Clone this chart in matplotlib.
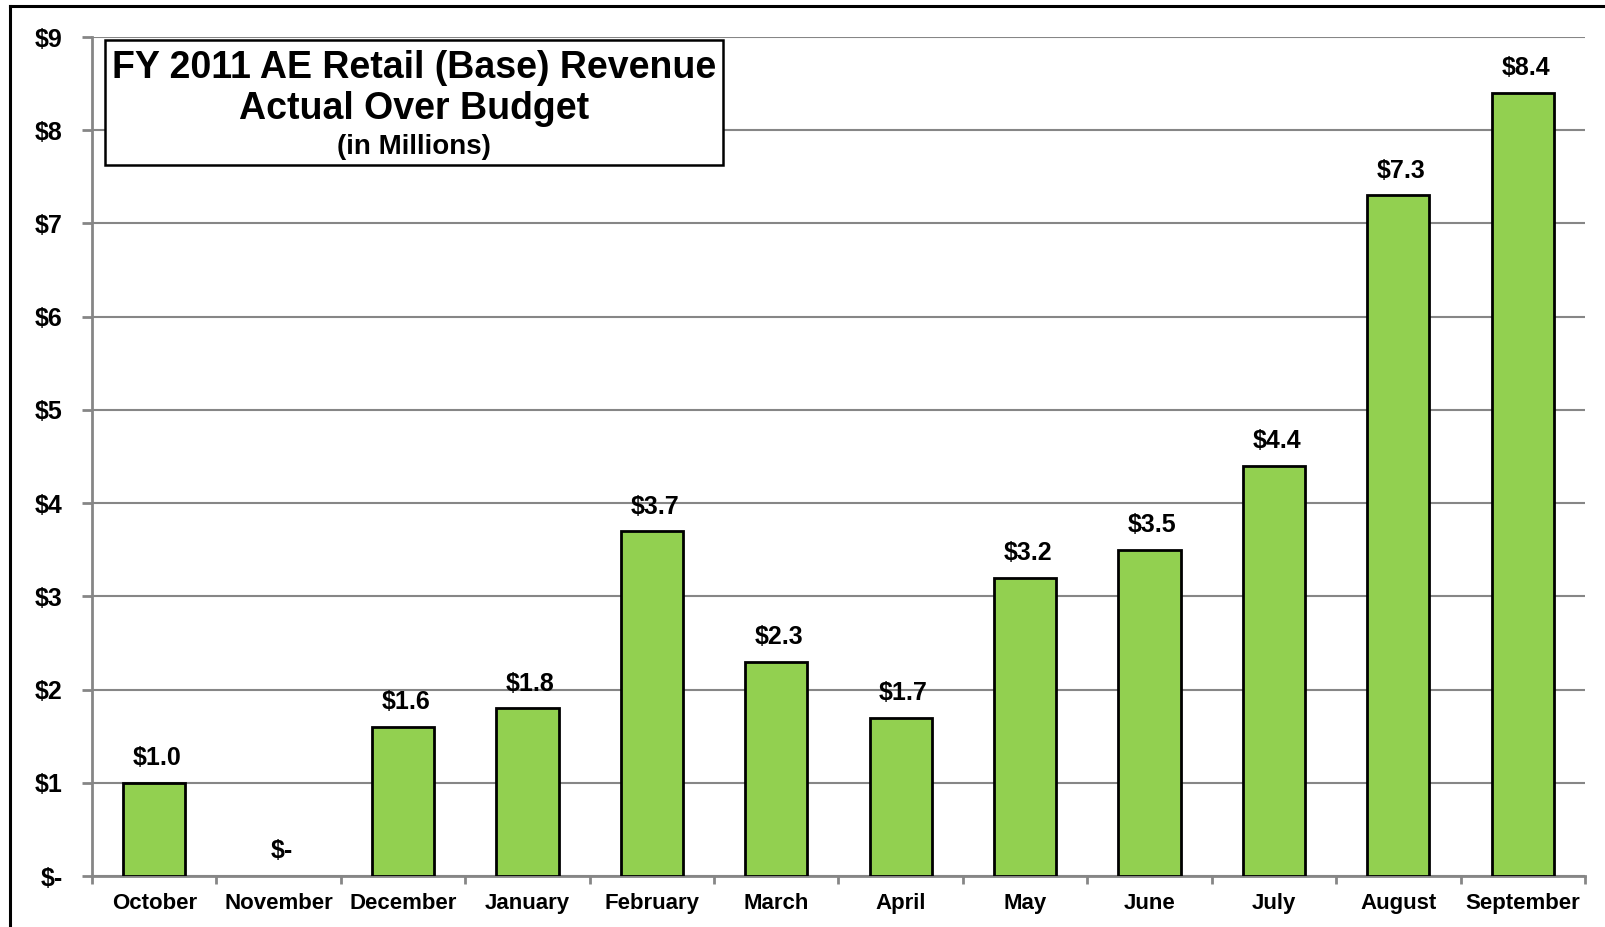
import matplotlib
matplotlib.use("Agg")
import matplotlib.pyplot as plt
from matplotlib.patches import Rectangle
from matplotlib.lines import Line2D
from matplotlib.ticker import FixedLocator

plt.rcParams['font.family'] = ['Liberation Sans', 'DejaVu Sans']
plt.rcParams['font.weight'] = 'bold'

months = ["October", "November", "December", "January", "February", "March",
          "April", "May", "June", "July", "August", "September"]
values = [1.0, 0.0, 1.6, 1.8, 3.7, 2.3, 1.7, 3.2, 3.5, 4.4, 7.3, 8.4]
yticks = [0, 1, 2, 3, 4, 5, 6, 7, 8, 9]
ytick_labels = ["$-", "$1", "$2", "$3", "$4", "$5", "$6", "$7", "$8", "$9"]
title_lines = ["FY 2011 AE Retail (Base) Revenue", "Actual Over Budget", "(in Millions)"]

W, H = 1606, 927
fig = plt.figure(figsize=(W / 100, H / 100), dpi=100)
ax = fig.add_axes([92 / W, 1 - 876 / H, (1585 - 92) / W, (876 - 37) / H])

grid_c = "#868686"
x = list(range(len(months)))
edges = ["black" if v != 0 else "none" for v in values]
ax.bar(x, values, width=0.5, color="#92D050", edgecolor=edges, linewidth=2, zorder=3)

for xi, v in zip(x, values):
    lab = "$-" if v == 0 else f"${v:.1f}"
    ax.annotate(lab, (xi, v), xytext=(2, 9), textcoords="offset points",
                ha="center", va="bottom", fontsize=18, fontweight="bold")

ax.set_xlim(-0.5, len(months) - 0.5)
ax.set_ylim(0, 9)
ax.set_yticks(yticks)
ax.set_yticklabels(ytick_labels, fontsize=18, fontweight="bold")
ax.set_xticks(x)
ax.set_xticklabels(months, fontsize=16, fontweight="bold")
ax.xaxis.set_minor_locator(FixedLocator([i - 0.5 for i in range(len(months) + 1)]))
ax.tick_params(axis="x", which="major", length=0, pad=12)
ax.tick_params(axis="x", which="minor", length=6, width=2, color=grid_c, direction="out")
ax.tick_params(axis="y", which="major", length=7, width=2, color=grid_c, direction="out", pad=14)

ax.grid(axis="y", color=grid_c, linewidth=1.5, zorder=0)
ax.set_axisbelow(True)
for s in ["top", "right"]:
    ax.spines[s].set_visible(False)
for s in ["left", "bottom"]:
    ax.spines[s].set_color(grid_c)
    ax.spines[s].set_linewidth(2)

# figure frame (left & top sides visible)
fig.add_artist(Line2D([10 / W, 10 / W], [0, 1 - 6 / H], color="black", linewidth=2.2,
                      transform=fig.transFigure))
fig.add_artist(Line2D([10 / W, 1], [1 - 6 / H, 1 - 6 / H], color="black", linewidth=2.2,
                      transform=fig.transFigure))

# title box
bx0, bx1, by0, by1 = 105, 723, 40, 165
fig.add_artist(Rectangle((bx0 / W, 1 - by1 / H), (bx1 - bx0) / W, (by1 - by0) / H,
                         transform=fig.transFigure, facecolor="white", edgecolor="black",
                         linewidth=1.8, zorder=5))
cx = (bx0 + bx1) / 2 / W
fig.text(cx, 1 - 68 / H, title_lines[0], ha="center", va="center", fontsize=27,
         fontweight="bold", zorder=6)
fig.text(cx, 1 - 109 / H, title_lines[1], ha="center", va="center", fontsize=27,
         fontweight="bold", zorder=6)
fig.text(cx, 1 - 147 / H, title_lines[2], ha="center", va="center", fontsize=20,
         fontweight="bold", zorder=6)

fig.savefig("out.png", dpi=100, facecolor="white")
